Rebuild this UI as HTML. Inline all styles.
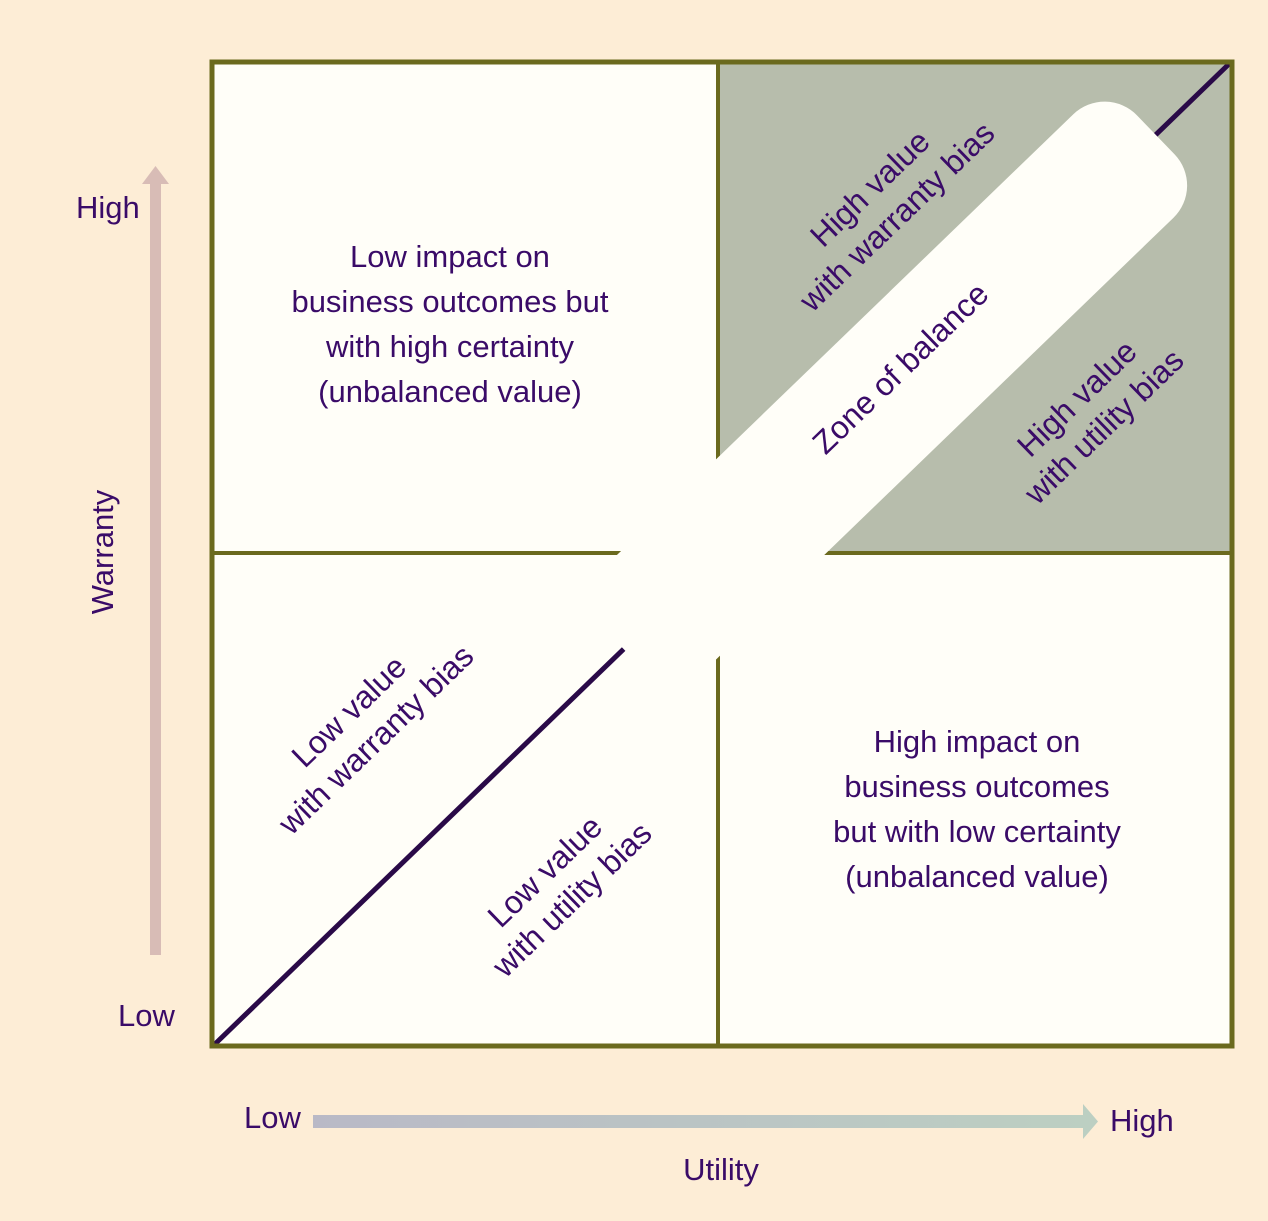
<!DOCTYPE html>
<html><head><meta charset="utf-8"><style>
html,body{margin:0;padding:0;background:#fdedd6;}
svg{display:block;}
text{font-family:"Liberation Sans",sans-serif;fill:#3a0b68;}
</style></head><body>
<svg width="1268" height="1221" viewBox="0 0 1268 1221" xmlns="http://www.w3.org/2000/svg">
<rect width="1268" height="1221" fill="#fdedd6"/>
<rect x="212" y="62" width="1020" height="984" fill="#fffef8"/>
<rect x="718" y="62" width="514" height="491" fill="#b7bdac"/>
<line x1="212" y1="553" x2="1232" y2="553" stroke="#6b6a1e" stroke-width="4"/>
<line x1="718" y1="62" x2="718" y2="1046" stroke="#6b6a1e" stroke-width="4"/>
<line x1="215" y1="1044" x2="1230" y2="63" stroke="#2a0a48" stroke-width="5"/>
<g transform="translate(645,628) rotate(-44)">
<rect x="-30" y="-72" width="740" height="144" rx="45" fill="#fffef8"/>
</g>
<rect x="212" y="62" width="1020" height="984" fill="none" stroke="#6b6a1e" stroke-width="5"/>
<g font-size="31" text-anchor="middle">
<text x="450" y="267">Low impact on</text>
<text x="450" y="312">business outcomes but</text>
<text x="450" y="357">with high certainty</text>
<text x="450" y="402">(unbalanced value)</text>
<text x="977" y="752">High impact on</text>
<text x="977" y="797">business outcomes</text>
<text x="977" y="842">but with low certainty</text>
<text x="977" y="887">(unbalanced value)</text>
</g>
<g font-size="32" text-anchor="middle">
<g transform="translate(362,725) rotate(-44)"><text x="0" y="-8">Low value</text><text x="0" y="31">with warranty bias</text></g>
<g transform="translate(558,885) rotate(-44)"><text x="0" y="-8">Low value</text><text x="0" y="31">with utility bias</text></g>
<g transform="translate(883,202) rotate(-44)"><text x="0" y="-8">High value</text><text x="0" y="31">with warranty bias</text></g>
<g transform="translate(908,376) rotate(-44)"><text x="0" y="0">Zone of balance</text></g>
<g transform="translate(1090,412) rotate(-44)"><text x="0" y="-8">High value</text><text x="0" y="31">with utility bias</text></g>
</g>
<rect x="150" y="182" width="11" height="773" fill="#d8bcb6"/>
<polygon points="142,184 169,184 155.5,166" fill="#d8bcb6"/>
<defs><linearGradient id="hg" x1="0" x2="1"><stop offset="0" stop-color="#b9b9c6"/><stop offset="1" stop-color="#bccfc2"/></linearGradient></defs>
<rect x="313" y="1115" width="772" height="13" fill="url(#hg)"/>
<polygon points="1083,1104 1083,1139 1098,1121.5" fill="#bccfc2"/>
<g font-size="31">
<text x="76" y="218">High</text>
<text x="118" y="1026">Low</text>
<text x="244" y="1128">Low</text>
<text x="1110" y="1131">High</text>
<text x="721" y="1180" text-anchor="middle">Utility</text>
<text transform="translate(113,552) rotate(-90)" text-anchor="middle">Warranty</text>
</g>
</svg>
</body></html>
